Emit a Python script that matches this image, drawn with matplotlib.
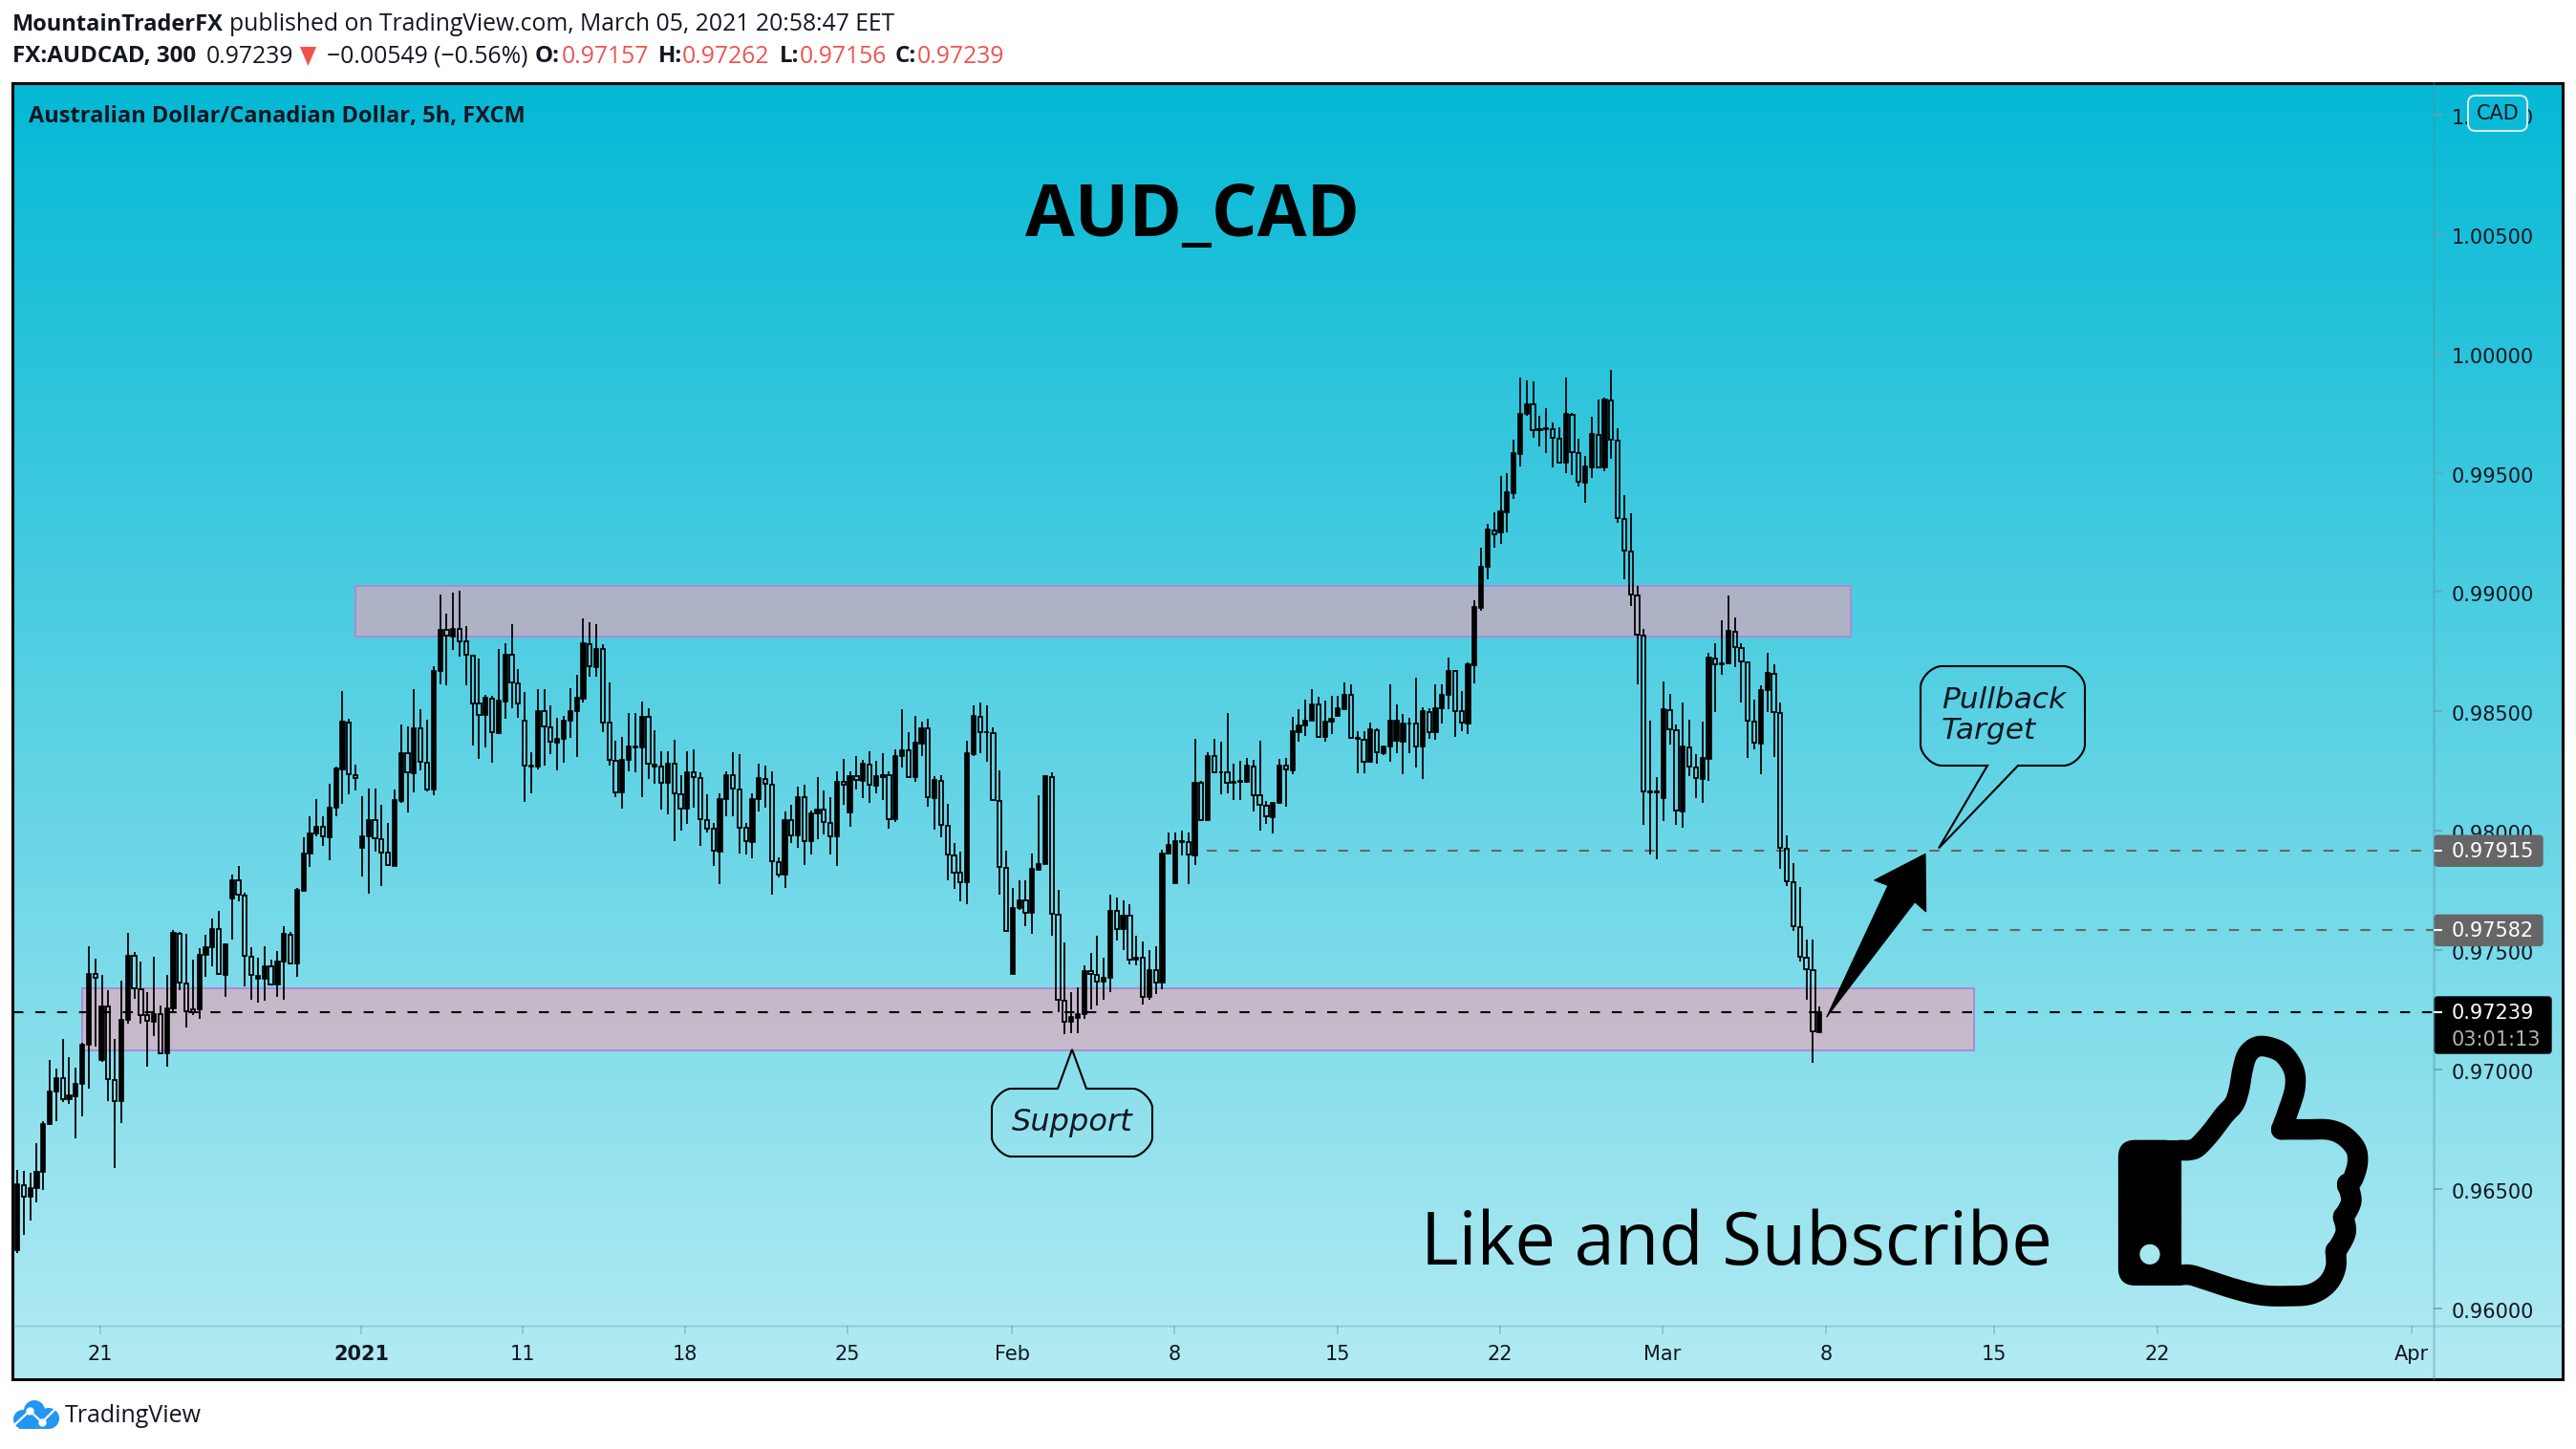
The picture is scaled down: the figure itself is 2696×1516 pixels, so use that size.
import numpy as np
import matplotlib
matplotlib.use('Agg')
import matplotlib.pyplot as plt
from matplotlib.colors import LinearSegmentedColormap
from matplotlib.patches import Rectangle, FancyBboxPatch, Polygon, Circle, PathPatch
from matplotlib.path import Path
from matplotlib.transforms import ScaledTranslation

# candles, in 1/100000 of a CAD
opens = [96241,96515,96465,96504,96571,96772,96908,96962,96876,96889,96939,97104,97399,97040,97263,96956,96868,97209,97477,97335,97226,97199,97230,97069,97257,97569,97360,97251,97253,97481,97510,97588,97397,97717,97791,97730,97473,97381,97381,97433,97356,97452,97565,97443,97749,97904,97989,98017,97973,98096,98257,98454,98232,97929,97977,98044,97966,97908,97853,98123,98324,98242,98429,98286,98173,98671,98841,98814,98847,98793,98732,98535,98483,98552,98410,98541,98736,98617,98460,98270,98267,98502,98433,98370,98385,98462,98502,98554,98782,98684,98763,98454,98293,98161,98295,98349,98349,98477,98267,98267,98199,98280,98153,98094,98245,98222,98046,98010,97914,98134,98234,98173,98014,97954,98134,98217,98194,97870,97816,98046,97979,98142,97956,98073,98088,98031,97977,98203,98077,98228,
98209,98277,98188,98231,98231,98049,98311,98337,98225,98366,98429,98137,98209,98021,97897,97823,97785,98320,98478,98412,98409,98125,97845,97400,97675,97708,97656,97836,97862,98226,97649,97288,97199,97216,97232,97411,97396,97366,97382,97664,97586,97644,97458,97468,97305,97417,97362,97904,97782,97957,97952,97897,98202,98045,98312,98246,98243,98199,98208,98205,98269,98147,98105,98058,98116,98272,98254,98413,98441,98461,98530,98392,98458,98482,98510,98570,98387,98381,98288,98421,98326,98354,98375,98373,98450,98449,98351,98498,98412,98513,98568,98671,98499,98450,98694,
98934,99106,99259,99250,99335,99415,99579,99747,99787,99681,99685,99684,99644,99544,99744,99584,99459,99524,99660,99524,99804,99635,99306,99170,98986,98818,98163,98163,98138,98505,98422,98082,98349,98265,98218,98302,98723,98697,98703,98834,98766,98705,98458,98366,98590,98658,98494,97925,97785,97597,97469,97417,97157]
highs = [96577,96573,96567,96690,96782,97038,97002,97128,97052,97008,97113,97515,97462,97395,97330,97127,97372,97571,97492,97452,97324,97471,97266,97395,97583,97577,97567,97458,97506,97563,97630,97665,97529,97818,97851,97740,97510,97468,97515,97458,97496,97600,97577,97759,97971,98062,98132,98062,98196,98267,98585,98470,98276,98146,98176,98176,98109,98031,98171,98445,98435,98592,98508,98464,98688,98989,98908,98997,99004,98857,98736,98721,98569,98564,98761,98786,98864,98677,98583,98330,98594,98594,98527,98473,98479,98598,98652,98891,98872,98866,98780,98621,98378,98391,98493,98493,98541,98512,98422,98334,98334,98381,98234,98334,98339,98243,98152,98033,98157,98247,98330,98320,98033,98157,98282,98272,98249,97889,98081,98109,98186,98192,98085,98224,98167,98142,98249,98301,98249,98311,
98295,98331,98291,98323,98249,98341,98507,98413,98482,98456,98469,98229,98234,98114,97950,97912,98378,98525,98537,98525,98433,98254,97915,97759,97793,97793,97904,98150,98234,98246,97751,97532,97325,97345,97437,97486,97560,97468,97734,97721,97708,97693,97560,97534,97498,97517,97920,97993,97993,98001,97992,98384,98208,98329,98384,98372,98492,98280,98291,98306,98295,98375,98124,98119,98300,98306,98476,98507,98551,98593,98562,98545,98567,98567,98620,98613,98415,98415,98452,98429,98357,98614,98528,98487,98472,98643,98518,98514,98613,98614,98724,98675,98587,98705,98967,
99185,99285,99333,99488,99498,99638,99898,99885,99881,99738,99770,99710,99692,99898,99752,99641,99569,99734,99807,99814,99930,99688,99405,99328,99027,98847,98459,98226,98627,98575,98444,98537,98465,98319,98457,98747,98784,98880,98985,98893,98787,98708,98551,98608,98744,98697,98539,97981,97866,97764,97542,97542,97262]
lows = [96232,96305,96366,96442,96494,96768,96782,96864,96854,96711,96803,96918,97094,97031,96868,96586,96774,97190,97295,97190,97012,97138,97069,97012,97234,97330,97176,97228,97213,97387,97433,97395,97305,97544,97705,97347,97291,97280,97286,97353,97305,97291,97443,97387,97745,97847,97975,97937,97876,98062,98113,98152,98167,97809,97736,97914,97768,97851,97851,98115,98077,98161,98253,98163,98148,98613,98611,98757,98728,98611,98358,98301,98349,98286,98406,98470,98512,98473,98119,98157,98257,98272,98320,98253,98286,98387,98307,98537,98646,98646,98412,98272,98142,98094,98249,98244,98142,98215,98196,98088,98069,97956,98000,98027,98096,97937,97994,97851,97778,98062,98062,97904,97899,97885,98081,98096,97732,97803,97759,97947,97927,97857,97899,97966,97985,97899,97851,98109,98017,98173,
98137,98116,98157,98130,98007,98038,98265,98222,98203,98311,98101,98004,97973,97793,97756,97705,97693,98314,98326,98288,98124,97733,97575,97400,97667,97598,97567,97832,97859,97560,97238,97146,97153,97153,97210,97253,97268,97291,97322,97540,97498,97440,97434,97271,97291,97314,97337,97901,97779,97897,97777,97855,98039,98042,98242,98153,98157,98130,98127,98200,98081,98001,98027,97989,98114,98099,98237,98372,98395,98459,98387,98372,98403,98476,98507,98384,98242,98242,98283,98280,98318,98288,98326,98237,98326,98265,98216,98383,98380,98449,98510,98392,98418,98403,98617,
98923,99055,99187,99202,99248,99391,99528,99738,99648,99610,99581,99524,99538,99499,99491,99442,99373,99478,99521,99507,99560,99290,99055,98940,98613,98025,97900,97881,98042,98362,98026,98013,98229,98138,98118,98207,98498,98654,98701,98687,98538,98306,98342,98238,98498,98309,97841,97770,97581,97452,97291,97026,97156]
closes = [96519,96467,96504,96571,96772,96908,96964,96876,96893,96941,97104,97400,97383,97264,96958,96868,97209,97477,97339,97226,97203,97230,97069,97257,97571,97362,97243,97238,97481,97510,97588,97399,97523,97793,97732,97475,97395,97393,97433,97356,97452,97567,97445,97751,97906,97989,98017,97975,98096,98261,98456,98236,98221,97977,98046,97968,97910,97855,98127,98326,98244,98429,98288,98173,98671,98843,98816,98847,98795,98736,98535,98483,98556,98412,98544,98738,98621,98533,98272,98274,98502,98435,98372,98385,98462,98502,98556,98784,98688,98763,98454,98295,98161,98295,98353,98353,98477,98280,98278,98199,98282,98155,98092,98245,98224,98048,98010,97916,98134,98234,98176,98014,97956,98134,98219,98198,97872,97816,98046,97979,98142,97956,98073,98088,98037,97977,98205,98192,98230,98211,
98280,98191,98228,98226,98050,98311,98338,98226,98367,98430,98139,98211,98023,97900,97825,97786,98323,98479,98412,98412,98127,97848,97580,97678,97708,97656,97839,97862,98228,97652,97291,97201,97218,97232,97412,97400,97366,97382,97665,97586,97645,97458,97468,97305,97417,97363,97906,97941,97958,97954,97900,98202,98045,98314,98245,98243,98199,98206,98205,98271,98148,98107,98059,98118,98274,98257,98415,98442,98461,98531,98392,98458,98470,98511,98571,98387,98383,98288,98423,98329,98354,98459,98459,98447,98447,98352,98499,98413,98514,98568,98671,98499,98452,98697,98936,
99107,99260,99242,99336,99418,99581,99748,99788,99677,99677,99681,99645,99542,99745,99585,99461,99525,99661,99524,99805,99637,99309,99172,98989,98820,98165,98159,98159,98507,98424,98083,98351,98268,98221,98304,98724,98697,98703,98836,98768,98708,98459,98368,98591,98660,98495,97927,97788,97599,97470,97418,97159,97239]

y_ticks = [0.96, 0.965, 0.97, 0.975, 0.98, 0.985, 0.99, 0.995, 1.0, 1.005, 1.01]
x_tick_bars = [12.8, 52.9, 77.7, 102.6, 127.6, 152.9, 177.8, 202.9, 227.9, 252.9, 278, 303.8, 328.9, 368]
x_tick_labels = ['21', '2021', '11', '18', '25', 'Feb', '8', '15', '22', 'Mar', '8', '15', '22', 'Apr']

last_price = 0.97239
target_1 = 0.97915
target_2 = 0.97582
resistance = (0.98815, 0.99024)
support = (0.97081, 0.97338)

DARK = '#131722'
W, H = 2696, 1516
plt.rcParams['font.family'] = ['DejaVu Sans']

o = np.array(opens) / 1e5
h = np.array(highs) / 1e5
l = np.array(lows) / 1e5
c = np.array(closes) / 1e5
x = np.arange(len(o))

fig = plt.figure(figsize=(W / 100, H / 100), dpi=100, facecolor='white')

# pixel axes under everything, for the gradient
back = fig.add_axes([0, 0, 1, 1], zorder=0)
back.axis('off')
cmap = LinearSegmentedColormap.from_list('bg', ['#05B9D5', '#B3EBF3'])
back.imshow(np.linspace(0, 1, 256).reshape(-1, 1), cmap=cmap, aspect='auto', extent=(13, 2682, 1443, 87))
back.set_xlim(0, W)
back.set_ylim(H, 0)

# price pane
ax = fig.add_axes([14 / W, (H - 1387) / H, (2547 - 14) / W, (1387 - 89) / H], zorder=1)
ax.patch.set_alpha(0)
ax.set_xlim(-0.59, 371.4)
ax.set_ylim(0.95926, 1.01124)
for s in ax.spines.values():
    s.set_visible(False)
ax.yaxis.tick_right()
ax.set_yticks(y_ticks)
ax.set_yticklabels(['%.5f' % t for t in y_ticks], fontsize=15, color=DARK)
ax.set_xticks(x_tick_bars)
ax.set_xticklabels(x_tick_labels, fontsize=15, color=DARK)
ax.get_xticklabels()[1].set_fontweight('bold')
ax.tick_params(axis='y', length=6.5, width=1.2, color='#6FA5B0', pad=7)
ax.tick_params(axis='x', length=6.5, width=1.2, color='#8FBFC8', pad=8)
nudge = ScaledTranslation(0, -2 / 100, fig.dpi_scale_trans)
for lab in ax.get_yticklabels():
    lab.set_transform(lab.get_transform() + nudge)

# zones
for lo, hi, x0, x1 in [(*resistance, 52.0, 281.8), (*support, 10.0, 300.8)]:
    ax.add_patch(Rectangle((x0, lo), x1 - x0, hi - lo, facecolor='#F79FB2', alpha=0.58, edgecolor='none', zorder=1))
    ax.add_patch(Rectangle((x0, lo), x1 - x0, hi - lo, facecolor='none', edgecolor='#A88BD8', lw=1.4, zorder=1))

dash = (0, (5, 6))
ax.hlines(last_price, -0.59, 371.4, color='black', lw=1.5, linestyles=[dash], zorder=2)
ax.hlines(target_1, 182.9, 371.4, color='#666666', lw=1.5, linestyles=[dash], zorder=2)
ax.hlines(target_2, 292.8, 371.4, color='#666666', lw=1.5, linestyles=[dash], zorder=2)

# candles: filled goes up, hollow goes down, wicks stop at the body
top = np.maximum(o, c)
bot = np.minimum(o, c)
up = c >= o
ax.vlines(x, top, h, color='black', lw=1.3, zorder=3)
ax.vlines(x, l, bot, color='black', lw=1.3, zorder=3)
ax.bar(x[up], (top - bot)[up], bottom=bot[up], width=0.62, facecolor='black', edgecolor='black', lw=1.2, zorder=3)
ax.bar(x[~up], (top - bot)[~up], bottom=bot[~up], width=0.62, facecolor='none', edgecolor='black', lw=1.3, zorder=3)

# pixel axes on top, for drawings and labels
top_ax = fig.add_axes([0, 0, 1, 1], zorder=2)
top_ax.axis('off')
top_ax.patch.set_alpha(0)


def px_of(price):
    return 1118.7 - (price - 0.97) * 24970


# separators and frame
top_ax.plot([2547, 2547], [87, 1443], color='#4F8FA0', alpha=0.35, lw=1.8)
top_ax.plot([14, 2682], [1387, 1387], color='#4F8FA0', alpha=0.25, lw=1.8)
top_ax.add_patch(Rectangle((13, 87), 2669, 1356, facecolor='none', edgecolor='black', lw=2.2))

# header
head = [(13, 26, 'MountainTraderFX', DARK, 'bold', 17), (240, 26, 'published on TradingView.com, March 05, 2021 20:58:47 EET', DARK, 'normal', 17.8),
        (13, 59, 'FX:AUDCAD, 300', DARK, 'bold', 17.4), (216, 59, '0.97239', DARK, 'normal', 17.8),
        (342, 59, '\u22120.00549 (\u22120.56%)', DARK, 'normal', 17.8),
        (560, 59, 'O:', DARK, 'bold', 17.4), (588, 59, '0.97157', '#EF5350', 'normal', 17.8),
        (689, 59, 'H:', DARK, 'bold', 17.4), (714, 59, '0.97262', '#EF5350', 'normal', 17.8),
        (816, 59, 'L:', DARK, 'bold', 17.4), (837, 59, '0.97156', '#EF5350', 'normal', 17.8),
        (937, 59, 'C:', DARK, 'bold', 17.4), (960, 59, '0.97239', '#EF5350', 'normal', 17.8)]
for tx, ty, s, col, weight, size in head:
    top_ax.text(tx, ty, s, fontsize=size, color=col, fontweight=weight, family='Open Sans', va='center', ha='left')
top_ax.add_patch(Polygon([(314, 49), (331, 49), (322.5, 69)], facecolor='#EF5350', edgecolor='none'))

top_ax.text(30, 122, 'Australian Dollar/Canadian Dollar, 5h, FXCM', fontsize=17, color=DARK, fontweight='bold', family='Open Sans', va='center')
top_ax.text(1248, 247, 'AUD_CAD', fontsize=54, color='black', fontweight='bold', family='Open Sans', ha='center', va='baseline')
top_ax.text(1487, 1323, 'Like and Subscribe', fontsize=54.5, color='black', family='Open Sans', ha='left', va='baseline')

# CAD box
top_ax.add_patch(FancyBboxPatch((2591, 108), 46, 21, boxstyle='round,pad=8,rounding_size=8', mutation_aspect=1,
                                facecolor='#0ABBD7', edgecolor='#D9E6EA', lw=1.5))
top_ax.text(2614, 119, 'CAD', fontsize=15, color=DARK, ha='center', va='center')

# price tags
for price, col in [(target_1, '#666666'), (target_2, '#666666')]:
    py = px_of(price)
    top_ax.add_patch(FancyBboxPatch((2548, py - 16), 113, 32, boxstyle='round,pad=0,rounding_size=3', facecolor=col, edgecolor=col, lw=1))
    top_ax.plot([2547, 2556], [py, py], color='white', lw=1.5, solid_capstyle='butt')
    top_ax.text(2566, py + 1, '%.5f' % price, fontsize=15, color='white', va='center', ha='left')
py = px_of(last_price)
top_ax.add_patch(FancyBboxPatch((2548, 1043), 122, 59, boxstyle='round,pad=0,rounding_size=3', facecolor='black', edgecolor='black', lw=1))
top_ax.plot([2547, 2556], [py, py], color='white', lw=1.5, solid_capstyle='butt')
top_ax.text(2566, 1060, '%.5f' % last_price, fontsize=15, color='white', va='center', ha='left')
top_ax.text(2566, 1088, '03:01:13', fontsize=15, color='#B2B2B2', va='center', ha='left')


def callout(x0, y0, x1, y1, tip, base0, base1, r=22):
    # rounded box with a pointer under the bottom edge
    k = 0.55 * r
    v = [(x0 + r, y0), (x1 - r, y0), (x1 - k, y0), (x1, y0 + k), (x1, y0 + r), (x1, y1 - r), (x1, y1 - k), (x1 - k, y1), (x1 - r, y1)]
    e = [Path.MOVETO, Path.LINETO, Path.CURVE4, Path.CURVE4, Path.CURVE4, Path.LINETO, Path.CURVE4, Path.CURVE4, Path.CURVE4]
    v += [(base1, y1), tip, (base0, y1)]
    e += [Path.LINETO] * 3
    v += [(x0 + r, y1), (x0 + k, y1), (x0, y1 - k), (x0, y1 - r), (x0, y0 + r), (x0, y0 + k), (x0 + k, y0), (x0 + r, y0)]
    e += [Path.LINETO, Path.CURVE4, Path.CURVE4, Path.CURVE4, Path.LINETO, Path.CURVE4, Path.CURVE4, Path.CURVE4]
    top_ax.add_patch(PathPatch(Path(v, e), facecolor='none', edgecolor='black', lw=1.5, joinstyle='miter'))


# support callout: pointer goes up from the top edge
sx0, sy0, sx1, sy1 = 1038, 1139, 1206, 1210
k = 12
v = [(sx0 + 20, sy0), (1107, sy0), (1122, 1098), (1137, sy0), (sx1 - 20, sy0), (sx1 - k, sy0), (sx1, sy0 + k), (sx1, sy0 + 20),
     (sx1, sy1 - 20), (sx1, sy1 - k), (sx1 - k, sy1), (sx1 - 20, sy1), (sx0 + 20, sy1), (sx0 + k, sy1), (sx0, sy1 - k), (sx0, sy1 - 20),
     (sx0, sy0 + 20), (sx0, sy0 + k), (sx0 + k, sy0), (sx0 + 20, sy0)]
e = [Path.MOVETO, Path.LINETO, Path.LINETO, Path.LINETO, Path.LINETO, Path.CURVE4, Path.CURVE4, Path.CURVE4,
     Path.LINETO, Path.CURVE4, Path.CURVE4, Path.CURVE4, Path.LINETO, Path.CURVE4, Path.CURVE4, Path.CURVE4,
     Path.LINETO, Path.CURVE4, Path.CURVE4, Path.CURVE4]
top_ax.add_patch(PathPatch(Path(v, e), facecolor='none', edgecolor='black', lw=1.5))
top_ax.text(1122, 1175, 'Support', fontsize=23, style='italic', color=DARK, ha='center', va='center')

# pullback callout
callout(2010, 697, 2182, 801, (2029, 887.5), 2080, 2112)
top_ax.text(2032, 741, 'Pullback', fontsize=22.5, style='italic', color=DARK, va='baseline')
top_ax.text(2032, 773, 'Target', fontsize=22.5, style='italic', color=DARK, va='baseline')

# arrow
arrow = [(695, 1348), (888, 948), (845, 932), (1005, 852), (1007, 1028), (972, 998)]
top_ax.add_patch(Polygon([(1680 + a / 3, 600 + b / 2.904) for a, b in arrow], facecolor='black', edgecolor='black', lw=0.8))


def smooth(points, n=14):
    # catmull-rom through the points
    p = np.array(points, float)
    p = np.vstack([p[0], p, p[-1]])
    out = []
    for i in range(1, len(p) - 2):
        for t in np.linspace(0, 1, n, endpoint=False):
            out.append(0.5 * (2 * p[i] + (p[i + 1] - p[i - 1]) * t + (2 * p[i - 1] - 5 * p[i] + 4 * p[i + 1] - p[i + 2]) * t ** 2
                              + (3 * p[i] - p[i - 1] - 3 * p[i + 1] + p[i + 2]) * t ** 3))
    out.append(p[-2])
    return np.array(out)


def thumb_xy(a):
    a = np.asarray(a, float)
    return 2150 + a[:, 0] / 2.87, 1050 + a[:, 1] / 3


# thumbs up
thumb_parts = [
    [(380, 460), (405, 460), (430, 450), (470, 405), (510, 350), (540, 315), (555, 270), (565, 210), (580, 160), (610, 135), (650, 138), (690, 160), (720, 210), (723, 265), (705, 330), (682, 395)],
    [(682, 395), (760, 395), (825, 396), (870, 415), (905, 455), (911, 500), (897, 550), (880, 572)],
    [(880, 565), (892, 620), (868, 672)],
    [(868, 668), (875, 720), (845, 780)],
    [(845, 775), (845, 830), (820, 880), (770, 912), (700, 918), (620, 915), (540, 895), (460, 868), (410, 852), (380, 852)],
]
for part in thumb_parts:
    tx, ty = thumb_xy(smooth(part))
    top_ax.plot(tx, ty, color='black', lw=15.5, solid_capstyle='round', solid_joinstyle='round')
cx0, cy0 = 2150 + 192 / 2.87, 1050 + 428 / 3
cx1, cy1 = 2150 + 382 / 2.87, 1050 + 885 / 3
top_ax.add_patch(FancyBboxPatch((cx0 + 18, cy0 + 18), cx1 - cx0 - 36, cy1 - cy0 - 36, boxstyle='round,pad=18,rounding_size=18', facecolor='black', edgecolor='none'))
top_ax.add_patch(Rectangle((cx1 - 20, cy0), 20, cy1 - cy0, facecolor='black', edgecolor='none'))
top_ax.add_patch(Circle((2150 + 287 / 2.87, 1050 + 787 / 3), 10.6, facecolor='#A6E7F0', edgecolor='none'))

# footer logo
blue = '#2196F3'
for cx, cy, r in [(24, 1485, 10), (36, 1476, 11), (51, 1484, 11)]:
    top_ax.add_patch(Circle((cx, cy), r, facecolor=blue, edgecolor='none'))
top_ax.add_patch(Rectangle((20, 1484), 33, 11, facecolor=blue, edgecolor='none'))
top_ax.plot([15, 31, 44, 58], [1491, 1476, 1488, 1474], color='white', lw=1.6)
top_ax.plot([31, 44], [1476, 1488], 'o', color='white', ms=5)
top_ax.text(68, 1482, 'TradingView', fontsize=18, color=DARK, family='Open Sans', va='center')

top_ax.set_xlim(0, W)
top_ax.set_ylim(H, 0)
fig.savefig('out.png', dpi=100)
